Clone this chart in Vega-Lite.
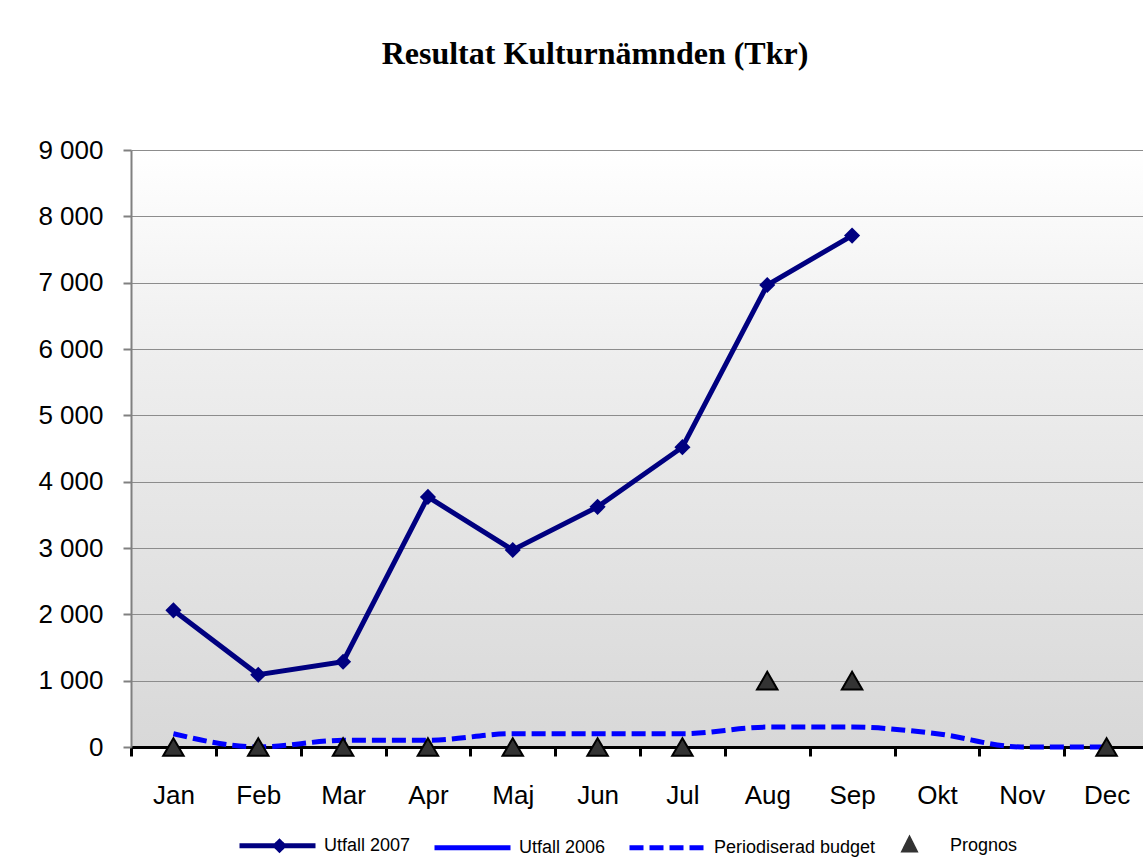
{
  "$schema": "https://vega.github.io/schema/vega-lite/v6.json",
  "width": 1018,
  "height": 597,
  "padding": {"left": 37, "top": 38, "right": 0, "bottom": 5},
  "background": "white",
  "title": {
    "text": "Resultat Kulturnämnden (Tkr)",
    "font": "Liberation Serif",
    "fontSize": 32,
    "fontWeight": "bold",
    "color": "black",
    "anchor": "middle",
    "dx": -45,
    "offset": 66
  },
  "config": {
    "view": {
      "stroke": null,
      "fill": {
        "gradient": "linear",
        "x1": 0, "y1": 0, "x2": 0, "y2": 1,
        "stops": [
          {"offset": 0, "color": "#ffffff"},
          {"offset": 0.35, "color": "#eeeeee"},
          {"offset": 1, "color": "#d8d8d8"}
        ]
      }
    },
    "font": "Liberation Sans",
    "legend": {"layout": {"bottom": {"anchor": "middle"}}}
  },
  "datasets": {
    "utfall2007": [
      {"month": "Jan", "value": 2060, "series": "Utfall 2007"},
      {"month": "Feb", "value": 1090, "series": "Utfall 2007"},
      {"month": "Mar", "value": 1285, "series": "Utfall 2007"},
      {"month": "Apr", "value": 3770, "series": "Utfall 2007"},
      {"month": "Maj", "value": 2970, "series": "Utfall 2007"},
      {"month": "Jun", "value": 3620, "series": "Utfall 2007"},
      {"month": "Jul", "value": 4520, "series": "Utfall 2007"},
      {"month": "Aug", "value": 6965, "series": "Utfall 2007"},
      {"month": "Sep", "value": 7710, "series": "Utfall 2007"}
    ],
    "budget": [
      {"month": "Jan", "value": 200, "series": "Periodiserad budget"},
      {"month": "Feb", "value": 0, "series": "Periodiserad budget"},
      {"month": "Mar", "value": 100, "series": "Periodiserad budget"},
      {"month": "Apr", "value": 100, "series": "Periodiserad budget"},
      {"month": "Maj", "value": 200, "series": "Periodiserad budget"},
      {"month": "Jun", "value": 200, "series": "Periodiserad budget"},
      {"month": "Jul", "value": 200, "series": "Periodiserad budget"},
      {"month": "Aug", "value": 300, "series": "Periodiserad budget"},
      {"month": "Sep", "value": 300, "series": "Periodiserad budget"},
      {"month": "Okt", "value": 200, "series": "Periodiserad budget"},
      {"month": "Nov", "value": 0, "series": "Periodiserad budget"},
      {"month": "Dec", "value": 0, "series": "Periodiserad budget"}
    ],
    "prognos": [
      {"month": "Jan", "value": 0, "series": "Prognos"},
      {"month": "Feb", "value": 0, "series": "Prognos"},
      {"month": "Mar", "value": 0, "series": "Prognos"},
      {"month": "Apr", "value": 0, "series": "Prognos"},
      {"month": "Maj", "value": 0, "series": "Prognos"},
      {"month": "Jun", "value": 0, "series": "Prognos"},
      {"month": "Jul", "value": 0, "series": "Prognos"},
      {"month": "Aug", "value": 1000, "series": "Prognos"},
      {"month": "Sep", "value": 1000, "series": "Prognos"},
      {"month": "Dec", "value": 0, "series": "Prognos"}
    ]
  },
  "encoding": {
    "x": {
      "field": "month",
      "type": "ordinal",
      "sort": ["Jan","Feb","Mar","Apr","Maj","Jun","Jul","Aug","Sep","Okt","Nov","Dec"],
      "scale": {"domain": ["Jan","Feb","Mar","Apr","Maj","Jun","Jul","Aug","Sep","Okt","Nov","Dec"], "paddingInner": 0, "paddingOuter": 0},
      "axis": {
        "title": null,
        "labelAngle": 0,
        "labelFontSize": 26,
        "labelColor": "black",
        "labelPadding": 26,
        "domainColor": "black",
        "domainWidth": 3,
        "tickColor": "black",
        "tickWidth": 3,
        "tickSize": 9,
        "tickBand": "extent",
        "grid": false
      }
    },
    "y": {
      "field": "value",
      "type": "quantitative",
      "scale": {"domain": [0, 9000], "nice": false},
      "axis": {
        "title": null,
        "values": [0,1000,2000,3000,4000,5000,6000,7000,8000,9000],
        "labelExpr": "replace(format(datum.value, ','), ',', ' ')",
        "labelFontSize": 26,
        "labelColor": "black",
        "labelPadding": 20,
        "domainColor": "#808080",
        "domainWidth": 2,
        "tickColor": "#808080",
        "tickWidth": 2,
        "tickSize": 8,
        "grid": true,
        "gridColor": "#8c8c8c",
        "gridWidth": 1.2
      }
    },
    "color": {
      "field": "series",
      "type": "nominal",
      "scale": {
        "domain": ["Utfall 2007", "Utfall 2006", "Periodiserad budget", "Prognos"],
        "range": ["#000080", "#0000ff", "#0000ff", "#333333"]
      },
      "legend": {
        "title": null,
        "orient": "bottom",
        "direction": "horizontal",
        "labelFontSize": 18,
        "labelColor": "black",
        "labelLimit": 400,
        "labelOffset": 36,
        "symbolStrokeWidth": 5,
        "symbolSize": 400,
        "columnPadding": 13,
        "offset": 25
      }
    }
  },
  "layer": [
    {
      "data": {"name": "budget"},
      "mark": {"type": "line", "strokeWidth": 5, "interpolate": "monotone"},
      "encoding": {
        "strokeDash": {
          "field": "series",
          "type": "nominal",
          "scale": {
            "domain": ["Utfall 2007", "Utfall 2006", "Periodiserad budget", "Prognos"],
            "range": [[1, 0], [1, 0], [14, 6], [1, 0]]
          }
        },
        "shape": {
          "field": "series",
          "type": "nominal",
          "scale": {
            "domain": ["Utfall 2007", "Utfall 2006", "Periodiserad budget", "Prognos"],
            "range": [
              "M-3.6,0L4,0M0.4,-0.4L0.8,0L0.4,0.4L0,0Z",
              "M-3.6,0L4,0",
              "M-3.6,0L4,0",
              "M0.8,-0.55L1.3,0.45L0.3,0.45Z"
            ]
          }
        }
      }
    },
    {
      "data": {"name": "utfall2007"},
      "mark": {"type": "line", "strokeWidth": 5}
    },
    {
      "data": {"name": "utfall2007"},
      "mark": {"type": "point", "shape": "diamond", "filled": true, "size": 260, "opacity": 1},
      "encoding": {"color": {"field": "series", "type": "nominal", "legend": null}}
    },
    {
      "data": {"name": "prognos"},
      "mark": {"type": "point", "shape": "triangle-up", "filled": true, "size": 420, "stroke": "black", "strokeWidth": 2, "opacity": 1},
      "encoding": {"color": {"field": "series", "type": "nominal", "legend": null}}
    }
  ]
}
